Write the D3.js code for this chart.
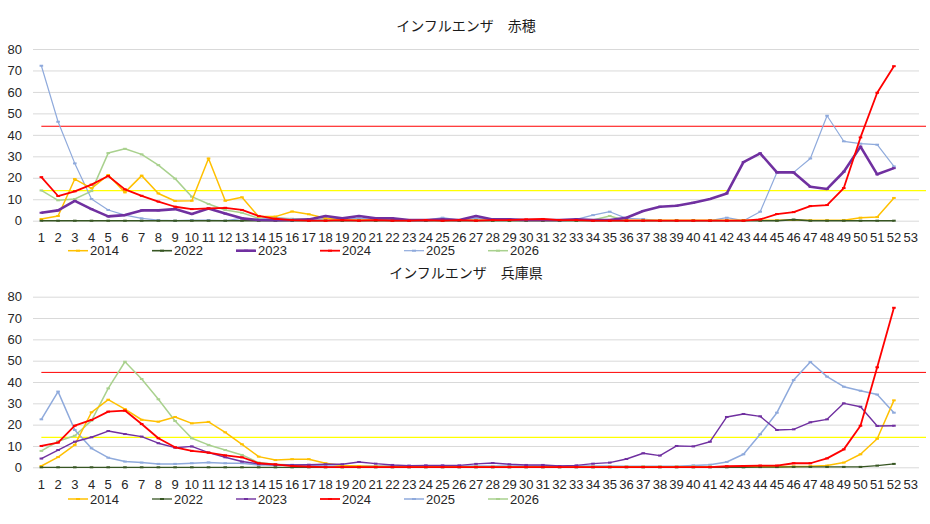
<!DOCTYPE html>
<html>
<head>
<meta charset="utf-8">
<script src="https://cdn.jsdelivr.net/npm/d3@7"></script>
<style>
  body { margin: 0; background: #fff; }
  text { font-family: "Liberation Sans", Arial, sans-serif; }
</style>
</head>
<body>
<div id="container"></div>
<script>
// Categories (weeks) and tick labels
const weeks = d3.range(1, 54);
const yTicks = [0, 10, 20, 30, 40, 50, 60, 70, 80];

// Series names and colours
const seriesNames = ["2014", "2022", "2023", "2024", "2025", "2026"];
const seriesColors = ["#ffc000", "#375623", "#7030a0", "#ff0000", "#8faadc", "#a9d18e"];

// 赤穂 (values per week, starting at week 1)
const ako2014 = [0.8, 2.2, 19.4, 15.1, 21.3, 13.2, 21.0, 12.7, 9.2, 9.3, 29.0, 9.3, 10.9, 1.9, 1.9, 4.3, 3.0, 1.1, 0.3, 0.3,
  0.3, 0.3, 0.2, 0.2, 0.2, 0.2, 0.2, 0.2, 0.2, 0.2, 0.2, 0.2, 0.2, 0.2, 0.2, 0.2, 0.2, 0.2, 0.2, 0.2,
  0.2, 0.2, 0.2, 0.2, 0.2, 0.3, 0.2, 0.2, 0.2, 1.4, 1.7, 10.6];
const ako2022 = [0, 0, 0, 0, 0, 0, 0, 0, 0, 0, 0, 0, 0, 0, 0, 0, 0, 0, 0, 0,
  0, 0, 0, 0, 0, 0, 0, 0, 0, 0, 0, 0, 0, 0, 0, 0, 0, 0, 0, 0,
  0, 0, 0, 0, 0, 0.5, 0, 0, 0, 0, 0, 0];
const ako2023 = [3.7, 4.8, 9.2, 5.4, 2.0, 2.6, 4.8, 4.8, 5.4, 3.1, 5.7, 3.3, 1.1, 0.3, 0.2, 0.3, 0.6, 2.2, 1.1, 2.2,
  1.1, 1.1, 0.3, 0.3, 0.6, 0.3, 2.2, 0.6, 0.6, 0.3, 0.3, 0.3, 0.6, 0.3, 0.3, 1.4, 4.5, 6.5, 7.0, 8.4,
  10.1, 12.7, 27.3, 31.4, 22.5, 22.5, 15.8, 14.8, 22.8, 34.5, 21.6, 24.5];
const ako2024 = [20.3, 11.5, 13.7, 16.8, 20.8, 14.6, 11.6, 8.9, 6.5, 5.4, 5.7, 6.0, 5.0, 2.2, 0.9, 0.3, 0, 0, 0.3, 0,
  0.3, 0, 0, 0.3, 0, 0.3, 0, 0.3, 0.3, 0.6, 0.8, 0.3, 0.3, 0, 0, 0, 0, 0, 0, 0,
  0, 0, 0, 0.6, 3.1, 4.0, 6.8, 7.3, 15.2, 38.8, 59.6, 72.0];
const ako2025 = [72.2, 46.1, 26.7, 10.1, 5.0, 2.6, 1.1, 0.3, 0, 0.3, 0.3, 0, 1.1, 0.6, 1.5, 0.6, 0.3, 1.1, 0.6, 1.1,
  0.6, 0.6, 0.3, 0.3, 1.4, 0.3, 1.1, 0.6, 0.6, 0.3, 0.3, 0.3, 0.6, 2.6, 4.2, 1.1, 0.8, 0, 0, 0,
  0, 1.4, 0, 4.2, 22.5, 22.5, 29.0, 48.9, 37.0, 35.9, 35.4, 25.3];
const ako2026 = [14.1, 9.5, 10.1, 13.8, 31.5, 33.5, 30.9, 25.9, 19.6, 11.2, 7.8, 5.0, 3.7, 1.1, 1.4, 0.9, 0.6, 0.3, 0.3, 0.3,
  0.3, 0.3, 0.3, 0.3, 0.3, 0.3, 0.3, 0.3, 0.3, 0.3, 0.3, 0.3, 0.3, 0.3, 2.2, 0];
const akoWarn = 44;
const akoCaution = 14;

// 兵庫県
const hyo2014 = [0.6, 4.8, 10.5, 25.8, 31.7, 27.3, 22.3, 21.4, 23.6, 20.6, 21.3, 16.4, 10.8, 5.0, 3.4, 3.8, 3.8, 1.9, 0.8, 0.6,
  0.4, 0.4, 0.3, 0.3, 0.3, 0.3, 0.3, 0.3, 0.3, 0.3, 0.3, 0.3, 0.3, 0.3, 0.3, 0.3, 0.3, 0.3, 0.3, 0.3,
  0.3, 0.3, 0.3, 0.3, 0.3, 0.4, 0.5, 0.8, 2.2, 6.1, 13.4, 31.4];
const hyo2022 = [0, 0, 0, 0, 0, 0, 0, 0, 0, 0, 0, 0, 0, 0, 0, 0, 0, 0, 0, 0,
  0, 0, 0, 0, 0, 0, 0, 0, 0, 0, 0, 0, 0, 0, 0, 0, 0, 0, 0, 0,
  0, 0, 0, 0.1, 0.1, 0.2, 0.2, 0.2, 0.2, 0.2, 0.8, 1.6];
const hyo2023 = [4.1, 8.1, 12.0, 14.1, 17.0, 15.6, 14.4, 11.3, 9.2, 9.8, 6.9, 4.7, 2.7, 1.6, 1.1, 1.1, 1.2, 1.4, 1.4, 2.5,
  1.7, 1.1, 0.8, 0.9, 0.9, 0.9, 1.6, 2.0, 1.4, 1.1, 1.1, 0.6, 0.9, 1.7, 2.2, 3.9, 6.6, 5.5, 10.0, 9.8,
  12.0, 23.6, 25.0, 23.9, 17.5, 17.8, 21.1, 22.5, 30.0, 28.4, 19.4, 19.5];
const hyo2024 = [10.0, 11.6, 19.5, 22.2, 26.1, 26.6, 20.3, 13.6, 9.4, 7.7, 6.9, 5.6, 4.7, 1.9, 1.4, 0.6, 0.3, 0.1, 0.1, 0.1,
  0.1, 0.1, 0.1, 0.1, 0.1, 0.1, 0.1, 0.1, 0.1, 0.1, 0.1, 0.1, 0.1, 0.1, 0.1, 0.1, 0.1, 0.1, 0.1, 0.1,
  0.1, 0.5, 0.6, 0.8, 0.8, 1.9, 1.9, 4.2, 8.4, 19.5, 46.9, 74.8];
const hyo2025 = [22.5, 35.5, 17.5, 8.9, 4.5, 2.7, 2.2, 1.6, 1.6, 1.9, 2.3, 1.9, 1.9, 1.1, 1.1, 1.1, 1.1, 0.6, 0.6, 0.6,
  0.6, 0.6, 0.6, 0.6, 0.6, 0.6, 0.6, 0.6, 0.6, 0.6, 0.6, 0.6, 0.6, 0.6, 0.6, 0.5, 0.5, 0.5, 0.5, 0.9,
  1.2, 2.5, 6.1, 15.5, 25.6, 40.9, 49.4, 42.5, 37.8, 35.9, 34.1, 25.6];
const hyo2026 = [7.7, 12.2, 14.8, 21.9, 37.0, 49.5, 41.4, 31.9, 21.7, 13.6, 10.5, 8.1, 5.8, 2.2, 1.4, 1.1, 0.8, 0.3, 0.3, 0.3,
  0.3, 0.3, 0.3, 0.3, 0.3, 0.3, 0.3, 0.3, 0.3, 0.3, 0.3, 0.3, 0.3, 0.3, 0.3];
const hyoWarn = 44.5;
const hyoCaution = 14;

const width = 930;
const height = 524;

const svg = d3.select("#container").append("svg")
  .attr("width", width)
  .attr("height", height);

svg.append("rect").attr("width", width).attr("height", height).attr("fill", "#fff");

// Draw one chart panel
function drawChart(opts) {
  const g = svg.append("g");

  const x = d3.scaleBand().domain(weeks).range([33, 919]);
  const y = d3.scaleLinear().domain([0, 80]).range([opts.bottom, opts.top]);
  const cx = d => x(d) + x.bandwidth() / 2;

  // Title
  g.append("text")
    .attr("x", 466)
    .attr("y", opts.titleY)
    .attr("text-anchor", "middle")
    .attr("font-family", "'Noto Sans CJK JP', sans-serif")
    .attr("font-size", 14)
    .attr("fill", "#1a1a1a")
    .style("font-family", "'Noto Sans CJK JP', sans-serif")
    .text(opts.title);

  // Y axis with gridlines
  const yAxis = g.append("g")
    .attr("transform", "translate(33,0)")
    .call(d3.axisLeft(y).tickValues(yTicks).tickSize(-886).tickPadding(11));
  yAxis.select(".domain").remove();
  yAxis.selectAll(".tick line").attr("stroke", "#d9d9d9");
  yAxis.selectAll(".tick text").attr("font-size", 13).attr("fill", "#262626")
    .attr("font-family", "'Liberation Sans', Arial, sans-serif");

  // X axis
  const xAxis = g.append("g")
    .attr("transform", `translate(0,${opts.bottom})`)
    .call(d3.axisBottom(x).tickSize(0).tickPadding(12));
  xAxis.select(".domain").remove();
  xAxis.selectAll(".tick text").attr("font-size", 13).attr("fill", "#262626")
    .attr("font-family", "'Liberation Sans', Arial, sans-serif");

  // Threshold lines
  g.append("line")
    .attr("x1", cx(1)).attr("x2", 926)
    .attr("y1", y(opts.caution)).attr("y2", y(opts.caution))
    .attr("stroke", "#ffff00").attr("stroke-width", 1.3);
  g.append("line")
    .attr("x1", cx(1)).attr("x2", 926)
    .attr("y1", y(opts.warn)).attr("y2", y(opts.warn))
    .attr("stroke", "#ff0000").attr("stroke-width", 1);

  const line = d3.line()
    .x((d, i) => cx(weeks[i]))
    .y(d => y(d));

  // Draw series in the order that puts the 2023/2024 lines on top
  const order = [5, 4, 0, 1, 2, 3];
  order.forEach(k => {
    const values = opts.series[k];
    g.append("path")
      .datum(values)
      .attr("fill", "none")
      .attr("stroke", seriesColors[k])
      .attr("stroke-width", opts.widths[k])
      .attr("stroke-linejoin", "round")
      .attr("d", line);
    g.selectAll(null)
      .data(values)
      .enter().append("rect")
      .attr("x", (d, i) => cx(weeks[i]) - 1.8)
      .attr("y", d => y(d) - 1)
      .attr("width", 3.6)
      .attr("height", 2)
      .attr("fill", seriesColors[k]);
  });

  // Legend
  const legend = g.append("g");
  seriesNames.forEach((name, k) => {
    const lx = 68 + k * 84;
    legend.append("line")
      .attr("x1", lx).attr("x2", lx + 20)
      .attr("y1", opts.legendY).attr("y2", opts.legendY)
      .attr("stroke", seriesColors[k])
      .attr("stroke-width", opts.widths[k]);
    legend.append("rect")
      .attr("x", lx + 8).attr("y", opts.legendY - 1)
      .attr("width", 4).attr("height", 2)
      .attr("fill", seriesColors[k]);
    legend.append("text")
      .attr("x", lx + 22)
      .attr("y", opts.legendY + 4.6)
      .attr("font-size", 13)
      .attr("fill", "#262626")
      .text(name);
  });
}

drawChart({
  title: "インフルエンザ　赤穂",
  titleY: 31,
  top: 49,
  bottom: 220.7,
  legendY: 250.7,
  series: [ako2014, ako2022, ako2023, ako2024, ako2025, ako2026],
  widths: [1.5, 1.6, 2.6, 1.8, 1.2, 1.5],
  warn: akoWarn,
  caution: akoCaution
});

drawChart({
  title: "インフルエンザ　兵庫県",
  titleY: 278,
  top: 296.7,
  bottom: 467.3,
  legendY: 499,
  series: [hyo2014, hyo2022, hyo2023, hyo2024, hyo2025, hyo2026],
  widths: [1.5, 1.3, 1.4, 1.8, 1.5, 1.5],
  warn: hyoWarn,
  caution: hyoCaution
});
</script>
</body>
</html>
